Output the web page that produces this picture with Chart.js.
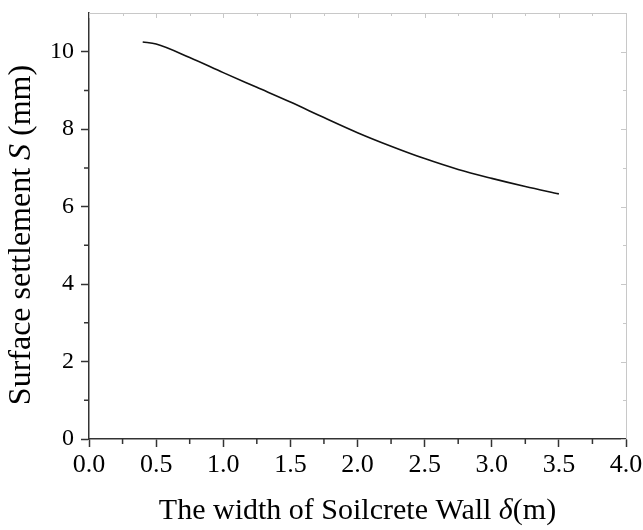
<!DOCTYPE html>
<html>
<head>
<meta charset="utf-8">
<script src="https://cdn.jsdelivr.net/npm/chart.js@4/dist/chart.umd.min.js"></script>
<style>
  html, body { margin: 0; padding: 0; background: #fff; }
  #wrap { width: 643px; height: 530px; position: relative; }
</style>
</head>
<body>
<div id="wrap"><canvas id="c" width="643" height="530"></canvas></div>
<script>
// ---- data ----
const widths = [0.4, 0.5, 0.75, 1.0, 1.25, 1.5, 1.75, 2.0, 2.25, 2.5, 2.75, 3.0, 3.25, 3.5];
const settlement = [10.25, 10.20, 9.85, 9.46, 9.08, 8.70, 8.30, 7.91, 7.56, 7.24, 6.96, 6.73, 6.52, 6.33];
const xMajorTicks = [0.0, 0.5, 1.0, 1.5, 2.0, 2.5, 3.0, 3.5, 4.0];
const xMinorTicks = [0.25, 0.75, 1.25, 1.75, 2.25, 2.75, 3.25, 3.75];
const yMajorTicks = [0, 2, 4, 6, 8, 10];
const yMinorTicks = [1, 3, 5, 7, 9];
const xTitleParts = [["The width of Soilcrete Wall ", false], ["δ", true], ["(m)", false]];
const yTitleParts = [["Surface settlement ", false], ["S", true], [" (mm)", false]];

const FONT = "'Liberation Serif', 'Times New Roman', serif";
const AXIS = '#333333';
const FRAME = '#c8c8c8';

const decorPlugin = {
  id: 'decor',
  afterDraw(chart) {
    const ctx = chart.ctx;
    const ca = chart.chartArea;
    const xs = chart.scales.x, ys = chart.scales.y;
    ctx.save();
    // top and right frame (light gray)
    ctx.strokeStyle = FRAME;
    ctx.lineWidth = 1;
    ctx.beginPath();
    ctx.moveTo(ca.left, ca.top + 0.5); ctx.lineTo(ca.right + 0.5, ca.top + 0.5);
    ctx.lineTo(ca.right + 0.5, ca.bottom);
    ctx.stroke();
    // inward ticks on top and right frame
    ctx.beginPath();
    xMajorTicks.forEach(v => { const p = Math.round(xs.getPixelForValue(v)) + 0.5; ctx.moveTo(p, ca.top); ctx.lineTo(p, ca.top + 5); });
    xMinorTicks.forEach(v => { const p = Math.round(xs.getPixelForValue(v)) + 0.5; ctx.moveTo(p, ca.top); ctx.lineTo(p, ca.top + 3); });
    yMajorTicks.forEach(v => { const p = Math.round(ys.getPixelForValue(v)) + 0.5; ctx.moveTo(ca.right, p); ctx.lineTo(ca.right - 5, p); });
    yMinorTicks.forEach(v => { const p = Math.round(ys.getPixelForValue(v)) + 0.5; ctx.moveTo(ca.right, p); ctx.lineTo(ca.right - 3, p); });
    ctx.stroke();
    // minor outward ticks on bottom and left axes
    ctx.strokeStyle = AXIS;
    ctx.lineWidth = 1.5;
    ctx.beginPath();
    xMinorTicks.forEach(v => { const p = xs.getPixelForValue(v); ctx.moveTo(p, ca.bottom); ctx.lineTo(p, ca.bottom + 5); });
    yMinorTicks.forEach(v => { const p = ys.getPixelForValue(v); ctx.moveTo(ca.left, p); ctx.lineTo(ca.left - 5, p); });
    ctx.stroke();

    // axis titles with italic symbols
    function drawParts(parts, size) {
      let total = 0;
      parts.forEach(([t, it]) => { ctx.font = (it ? 'italic ' : '') + size + 'px ' + FONT; total += ctx.measureText(t).width; });
      let x = -total / 2;
      parts.forEach(([t, it]) => {
        ctx.font = (it ? 'italic ' : '') + size + 'px ' + FONT;
        ctx.fillText(t, x, 0);
        x += ctx.measureText(t).width;
      });
    }
    ctx.fillStyle = '#000';
    ctx.textBaseline = 'middle';
    ctx.textAlign = 'left';
    ctx.save();
    ctx.translate((ca.left + ca.right) / 2, 511);
    drawParts(xTitleParts, 30);
    ctx.restore();
    ctx.save();
    ctx.translate(22, (ca.top + ca.bottom) / 2 + 9);
    ctx.rotate(-Math.PI / 2);
    drawParts(yTitleParts, 32);
    ctx.restore();
    ctx.restore();
  }
};

new Chart(document.getElementById('c'), {
  type: 'scatter',
  data: {
    datasets: [{
      data: widths.map((w, i) => ({ x: w, y: settlement[i] })),
      showLine: true,
      borderColor: '#111',
      borderWidth: 1.6,
      pointRadius: 0,
      cubicInterpolationMode: 'monotone',
      fill: false
    }]
  },
  options: {
    responsive: false,
    animation: false,
    devicePixelRatio: 1,
    layout: { padding: { left: 0, right: 17, top: 13, bottom: 0 } },
    plugins: { legend: { display: false }, tooltip: { enabled: false } },
    scales: {
      x: {
        type: 'linear', min: 0, max: 4,
        afterBuildTicks: s => { s.ticks = xMajorTicks.map(v => ({ value: v })); },
        afterFit: s => { s.height = 91; s.paddingLeft = 0; s.paddingRight = 0; },
        ticks: { font: { family: FONT, size: 26 }, color: '#000', padding: 3, maxRotation: 0,
                 callback: v => Number(v).toFixed(1) },
        grid: { drawOnChartArea: false, drawTicks: true, tickLength: 8, tickColor: AXIS, tickWidth: 1.5, color: AXIS },
        border: { display: true, color: AXIS, width: 1.5 },
        title: { display: false }
      },
      y: {
        type: 'linear', min: 0, max: 11,
        afterBuildTicks: s => { s.ticks = yMajorTicks.map(v => ({ value: v })); },
        afterFit: s => { s.width = 89; s.paddingTop = 0; s.paddingBottom = 0; },
        ticks: { font: { family: FONT, size: 24 }, color: '#000', padding: 7,
                 callback: v => String(v) },
        grid: { drawOnChartArea: false, drawTicks: true, tickLength: 8, tickColor: AXIS, tickWidth: 1.5, color: AXIS },
        border: { display: true, color: AXIS, width: 1.5 },
        title: { display: false }
      }
    }
  },
  plugins: [decorPlugin]
});
</script>
</body>
</html>
